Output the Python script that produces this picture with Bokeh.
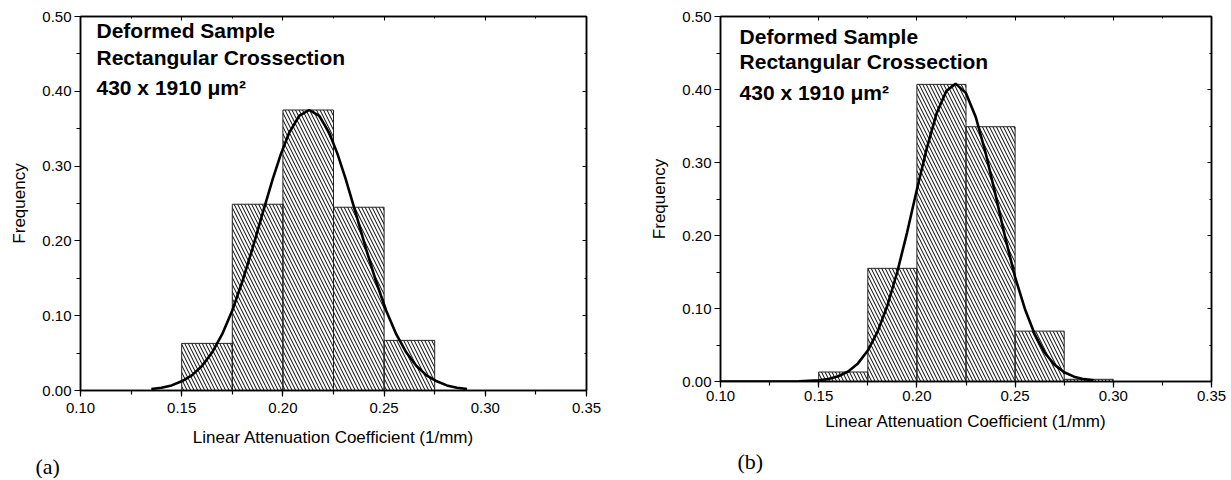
from bokeh.plotting import figure
from bokeh.layouts import row
from bokeh.models import Range1d, SingleIntervalTicker, NumeralTickFormatter, LinearAxis, Label, Title
from bokeh.embed import file_html
from bokeh.resources import INLINE

# ---------------- data ----------------
# panel (a)
a_bin_left = [0.150, 0.175, 0.200, 0.225, 0.250]
a_bin_right = [0.175, 0.200, 0.225, 0.250, 0.275]
a_freq = [0.063, 0.249, 0.375, 0.245, 0.067]
a_curve_x = [0.135, 0.140, 0.145, 0.150, 0.155, 0.160, 0.165, 0.170, 0.175, 0.180,
             0.185, 0.190, 0.195, 0.199, 0.203, 0.208, 0.213, 0.218, 0.223, 0.227,
             0.231, 0.236, 0.241, 0.246, 0.251, 0.256, 0.261, 0.266, 0.271, 0.276,
             0.281, 0.286, 0.291]
a_curve_y = [0.0019, 0.0037, 0.0068, 0.0123, 0.0202, 0.0327, 0.0507, 0.0753, 0.107, 0.146,
             0.190, 0.237, 0.283, 0.316, 0.344, 0.367, 0.375, 0.367, 0.344, 0.316,
             0.283, 0.237, 0.190, 0.146, 0.107, 0.0753, 0.0507, 0.0327, 0.0202, 0.0123,
             0.0068, 0.0037, 0.0019]

# panel (b)
b_bin_left = [0.150, 0.175, 0.200, 0.225, 0.250, 0.275]
b_bin_right = [0.175, 0.200, 0.225, 0.250, 0.275, 0.300]
b_freq = [0.013, 0.155, 0.407, 0.349, 0.069, 0.003]
b_curve_x = [0.100, 0.120, 0.140, 0.150, 0.155, 0.160, 0.165, 0.170, 0.175, 0.180,
             0.185, 0.190, 0.195, 0.200, 0.205, 0.210, 0.215, 0.2197, 0.225, 0.230,
             0.235, 0.240, 0.245, 0.250, 0.255, 0.260, 0.265, 0.270, 0.275, 0.280,
             0.285, 0.290]
b_curve_y = [0.0, 0.0, 0.0003, 0.0017, 0.0035, 0.0072, 0.0137, 0.0248, 0.0424, 0.0683,
             0.1042, 0.150, 0.204, 0.263, 0.319, 0.367, 0.398, 0.408, 0.395, 0.362,
             0.313, 0.256, 0.197, 0.143, 0.0994, 0.0647, 0.0398, 0.0231, 0.0127, 0.0066,
             0.0032, 0.0015]

annotation_lines = ["Deformed Sample", "Rectangular Crossection", "430 x 1910 \u03bcm\u00b2"]
x_title = "Linear Attenuation Coefficient (1/mm)"
y_title = "Frequency"
panel_tags = ["(a)", "(b)"]

SANS = "Liberation Sans"
SERIF = "Liberation Serif"


def make_panel(bl, br, freq, cx, cy, fw, fh, borders, ann_x, ann_ys, tag, tag_offset, tag_standoff,
               xl_standoff, xt_standoff, yt_standoff):
    p = figure(frame_width=fw, frame_height=fh, output_backend="svg", toolbar_location=None,
               x_range=Range1d(0.10, 0.35 + 1e-9), y_range=Range1d(0.0, 0.50 + 1e-9),
               min_border_left=borders[0], min_border_right=borders[1],
               min_border_top=borders[2], min_border_bottom=borders[3])
    p.grid.visible = False
    p.outline_line_color = "black"
    p.outline_line_width = 1.5
    p.background_fill_color = "white"
    p.border_fill_color = "white"

    p.quad(left=bl, right=br, bottom=0, top=freq, fill_color=None,
           line_color="#222222", line_width=1,
           hatch_pattern="\\", hatch_color="black", hatch_scale=7, hatch_weight=1)
    p.line(cx, cy, line_color="black", line_width=2.6)

    xt = SingleIntervalTicker(interval=0.05, num_minor_ticks=2)
    yt = SingleIntervalTicker(interval=0.10, num_minor_ticks=2)
    for ax, tk in ((p.xaxis[0], xt), (p.yaxis[0], yt)):
        ax.ticker = tk
        ax.formatter = NumeralTickFormatter(format="0.00")
        ax.axis_line_width = 1.5
        ax.axis_line_color = "black"
        ax.major_tick_line_width = 1.2
        ax.minor_tick_line_width = 1.2
        ax.major_tick_out = 6
        ax.major_tick_in = 0
        ax.minor_tick_out = 4
        ax.minor_tick_in = 0
        ax.major_label_text_font = SANS
        ax.major_label_text_font_size = "15px"
        ax.major_label_text_color = "black"
        ax.axis_label_text_font = SANS
        ax.axis_label_text_font_size = "17px"
        ax.axis_label_text_font_style = "normal"
        ax.axis_label_text_color = "black"
        ax.major_label_standoff = 3
    p.xaxis[0].axis_label = x_title
    p.yaxis[0].axis_label = y_title
    p.xaxis[0].major_label_standoff = xl_standoff
    p.xaxis[0].axis_label_standoff = xt_standoff
    p.yaxis[0].axis_label_standoff = yt_standoff

    for loc, tk in (("above", SingleIntervalTicker(interval=0.05, num_minor_ticks=2)),
                    ("right", SingleIntervalTicker(interval=0.10, num_minor_ticks=2))):
        ax = LinearAxis(ticker=tk, major_label_text_font_size="0px",
                        major_tick_in=4, major_tick_out=0, minor_tick_in=2, minor_tick_out=0,
                        axis_line_width=1.5, major_label_standoff=0)
        p.add_layout(ax, loc)

    for txt, y in zip(annotation_lines, ann_ys):
        p.add_layout(Label(x=ann_x, y=y, text=txt, text_font=SANS, text_font_size="21px",
                           text_font_style="bold", text_color="black",
                           text_baseline="alphabetic", text_align="left"))

    p.add_layout(Title(text=tag, text_font=SERIF, text_font_size="22px", text_font_style="normal",
                       text_color="black", align="left", offset=tag_offset,
                       standoff=tag_standoff), "below")
    return p


pa = make_panel(a_bin_left, a_bin_right, a_freq, a_curve_x, a_curve_y,
                506, 374, (80, 54, 12, 92), 0.1079, [0.481, 0.445, 0.405],
                panel_tags[0], -45, 5, 6, 12, 10)
pb = make_panel(b_bin_left, b_bin_right, b_freq, b_curve_x, b_curve_y,
                491, 365, (80, 16, 16, 97), 0.1097, [0.4726, 0.4384, 0.396],
                panel_tags[1], 17, 27, 3, 8, 10)

layout = row(pa, pb)
open("out.html", "w").write(file_html(layout, INLINE))
